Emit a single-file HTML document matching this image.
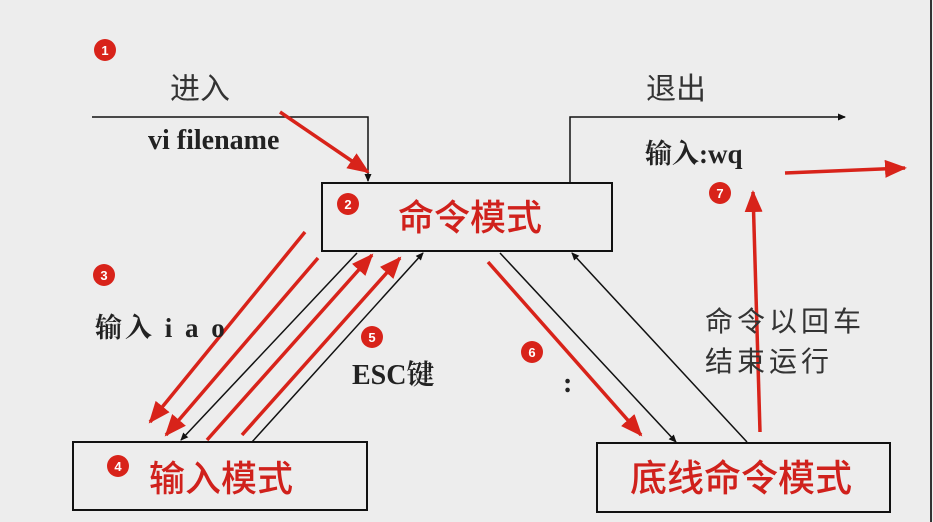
<!DOCTYPE html>
<html><head><meta charset="utf-8"><style>
body{margin:0;background:#ededed;}
svg{display:block}
.t{font-family:"Liberation Serif","Noto Serif CJK SC",serif;font-weight:bold;fill:#222}
.c{font-family:"Liberation Sans","Noto Sans CJK SC",sans-serif;fill:#333}
.r{font-family:"Liberation Sans","Noto Sans CJK SC",sans-serif;fill:#d0211c;font-weight:500}
.b{font-family:"Liberation Sans",sans-serif;font-weight:bold;fill:#fff;font-size:13px}
</style></head><body>
<svg width="933" height="522" viewBox="0 0 933 522">
<defs>
<marker id="k" markerWidth="8" markerHeight="8" refX="7" refY="4" orient="auto" markerUnits="userSpaceOnUse"><path d="M0,0.5L8,4L0,7.5z" fill="#111"/></marker>
<marker id="rr" markerWidth="22" markerHeight="18" refX="20" refY="9" orient="auto" markerUnits="userSpaceOnUse"><path d="M0,0L22,9L0,18z" fill="#d8231a"/></marker>
</defs>
<rect x="0" y="0" width="933" height="522" fill="#ededed"/>
<line x1="931" y1="0" x2="931" y2="522" stroke="#333" stroke-width="2"/>
<g fill="none" stroke="#111" stroke-width="2">
<rect x="322" y="183" width="290" height="68"/>
<rect x="73" y="442" width="294" height="68"/>
<rect x="597" y="443" width="293" height="69"/>
</g>
<g fill="none" stroke="#111" stroke-width="1.5">
<polyline points="92,117 368,117 368,181" marker-end="url(#k)"/>
<polyline points="570,183 570,117 845,117" marker-end="url(#k)"/>
<line x1="357" y1="253" x2="181" y2="440" marker-end="url(#k)"/>
<line x1="252" y1="442" x2="423" y2="253" marker-end="url(#k)"/>
<line x1="500" y1="253" x2="676" y2="442" marker-end="url(#k)"/>
<line x1="747" y1="442" x2="572" y2="253" marker-end="url(#k)"/>
</g>
<g stroke="#d8231a" stroke-width="3.5" fill="none">
<line x1="280" y1="112" x2="368" y2="172" marker-end="url(#rr)"/>
<line x1="305" y1="232" x2="150" y2="422" marker-end="url(#rr)"/>
<line x1="318" y1="258" x2="166" y2="435" marker-end="url(#rr)"/>
<line x1="207" y1="440" x2="372" y2="255" marker-end="url(#rr)"/>
<line x1="242" y1="435" x2="400" y2="258" marker-end="url(#rr)"/>
<line x1="488" y1="262" x2="641" y2="435" marker-end="url(#rr)"/>
<line x1="760" y1="432" x2="753" y2="192" marker-end="url(#rr)"/>
<line x1="785" y1="173" x2="905" y2="168" marker-end="url(#rr)"/>
</g>
<g fill="#d8231a">
<circle cx="105" cy="50" r="11"/><circle cx="348" cy="204" r="11"/><circle cx="104" cy="275" r="11"/>
<circle cx="118" cy="466" r="11"/><circle cx="372" cy="337" r="11"/><circle cx="532" cy="352" r="11"/><circle cx="720" cy="193" r="11"/>
</g>
<g class="b" text-anchor="middle">
<text x="105" y="55">1</text><text x="348" y="209">2</text><text x="104" y="280">3</text>
<text x="118" y="471">4</text><text x="372" y="342">5</text><text x="532" y="357">6</text><text x="720" y="198">7</text>
</g>
<text class="c" x="170" y="99" font-size="30">进入</text>
<text class="c" x="646" y="99" font-size="30">退出</text>
<text class="t" x="148" y="149" font-size="28">vi filename</text>
<text class="t" x="645" y="163" font-size="27">输入:wq</text>
<text class="t" x="95" y="337" font-size="27" letter-spacing="3">输入 i a o</text>
<text class="t" x="352" y="384" font-size="28">ESC键</text>
<text class="t" x="563" y="392" font-size="28">:</text>
<text class="c" x="705" y="331" font-size="28" letter-spacing="4">命令以回车</text>
<text class="c" x="705" y="371" font-size="28" letter-spacing="4">结束运行</text>
<text class="r" x="398" y="230" font-size="36">命令模式</text>
<text class="r" x="149" y="491" font-size="36">输入模式</text>
<text class="r" x="630" y="491" font-size="37">底线命令模式</text>
</svg>
</body></html>
